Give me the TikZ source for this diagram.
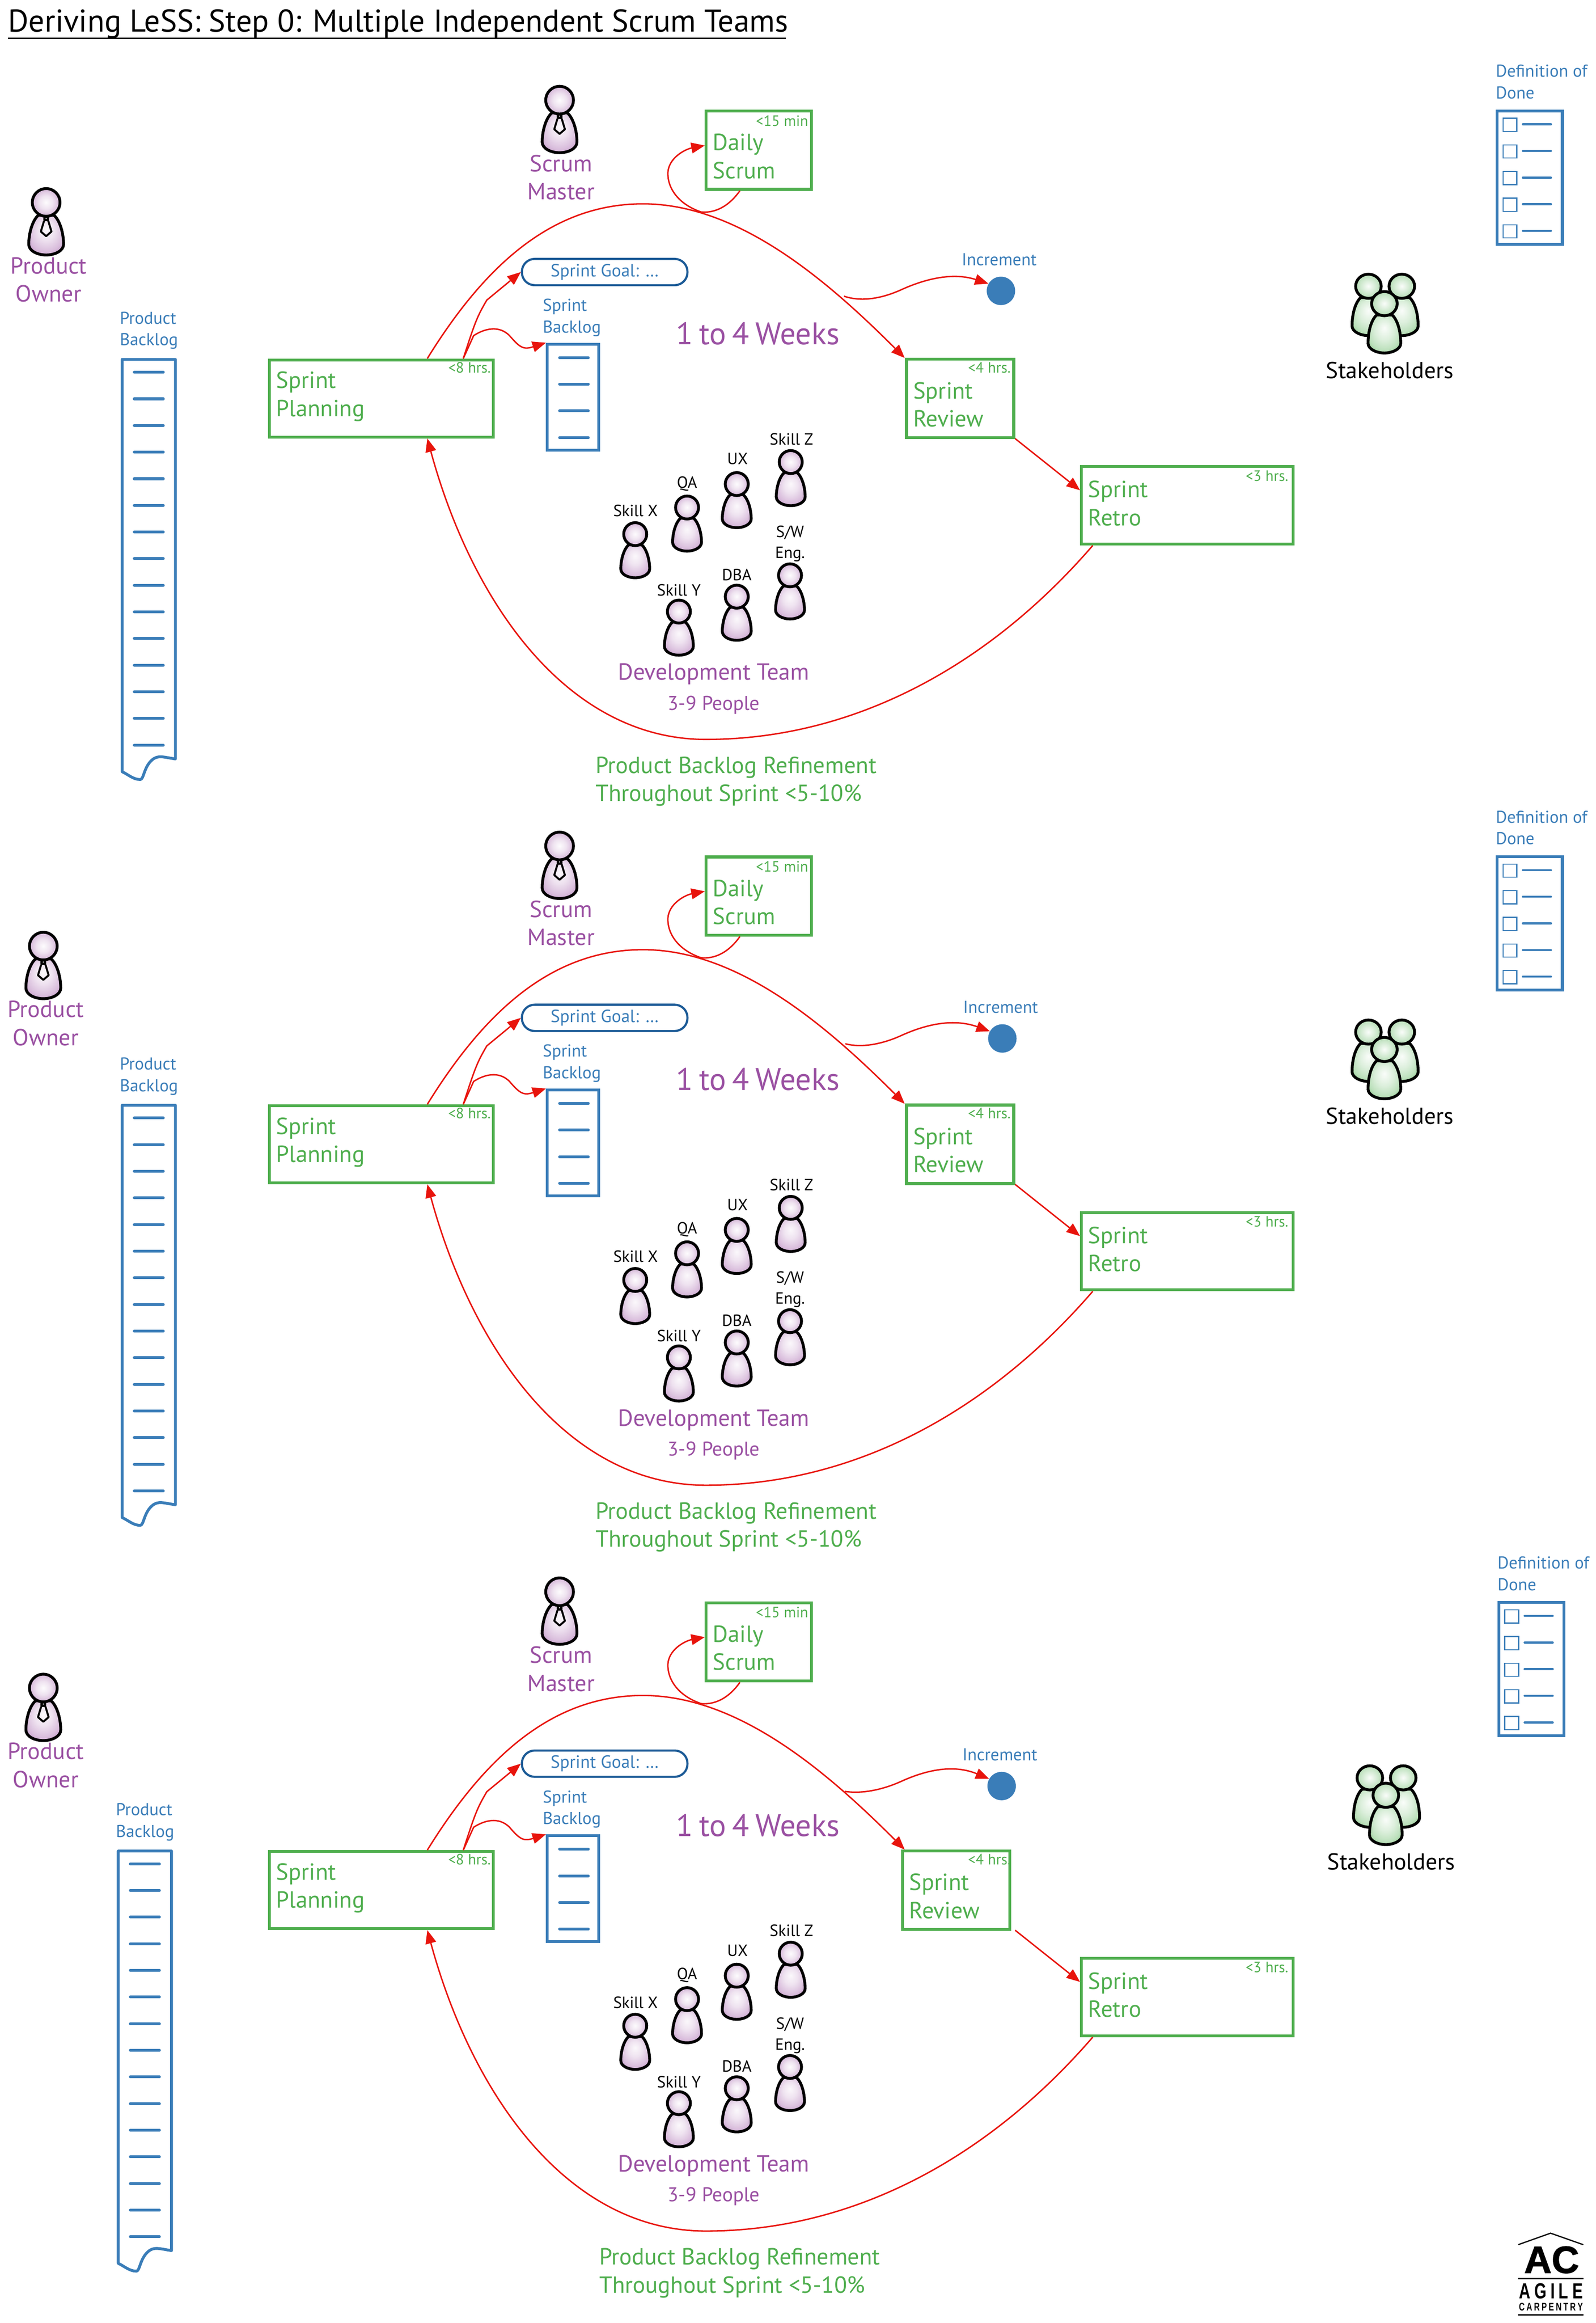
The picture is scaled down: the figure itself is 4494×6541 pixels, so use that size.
\documentclass[tikz,border=0pt]{standalone}
\usepackage{fontspec}
\setmainfont{PT Sans}
\newfontfamily\logofont[FakeStretch=0.72]{Liberation Sans}
\newfontfamily\logowide[FakeBold=1.5]{Liberation Sans}
\usetikzlibrary{positioning,arrows.meta}

\definecolor{scrumblue}{HTML}{3A7DB8}
\definecolor{goalblue}{HTML}{1B5A96}
\definecolor{scrumgreen}{HTML}{4FAE4E}
\definecolor{scrumpurple}{HTML}{9A50A2}
\definecolor{flowred}{HTML}{E8140C}

\pgfdeclareradialshading{purpleglow}{\pgfpoint{0bp}{0bp}}{color(0bp)=(scrumpurple!2!white); color(12bp)=(scrumpurple!16!white); color(25bp)=(scrumpurple!42!white)}
\pgfdeclareradialshading{bodyglow}{\pgfpoint{0bp}{8bp}}{color(0bp)=(scrumpurple!4!white); color(12bp)=(scrumpurple!16!white); color(25bp)=(scrumpurple!38!white); color(34bp)=(scrumpurple!62!white); color(50bp)=(scrumpurple!70!white)}
\pgfdeclareradialshading{greenglow}{\pgfpoint{0bp}{0bp}}{color(0bp)=(scrumgreen!3!white); color(25bp)=(scrumgreen!42!white)}
\pgfdeclareradialshading{greenbody}{\pgfpoint{0bp}{8bp}}{color(0bp)=(scrumgreen!3!white); color(14bp)=(scrumgreen!20!white); color(25bp)=(scrumgreen!38!white); color(34bp)=(scrumgreen!65!white); color(50bp)=(scrumgreen!70!white)}

\tikzset{
	sessionbox/.style 2 args={draw=scrumgreen, line width=0.08cm, text=scrumgreen, minimum width=#1cm, minimum height=#2cm, text width=#1cm-0.38cm, inner xsep=0.19cm, inner ysep=0pt, align=left, font=\bigfont},
	timelabel/.style={text=scrumgreen, inner sep=0pt, font=\fontsize{12}{14}\selectfont},
	rolelabel/.style={text=scrumpurple, inner sep=0pt, align=center, font=\bigfont},
	artefactlabel/.style={text=scrumblue, inner sep=0pt, align=left, font=\fontsize{13.8}{17.4}\selectfont},
	skilllabel/.style={inner sep=0pt, align=center, font=\fontsize{13}{16.8}\selectfont},
	flow/.style={draw=flowred, line width=0.04cm, -{Triangle[length=0.38cm,width=0.30cm]}},
	artefactline/.style={draw=scrumblue, line width=0.08cm, line cap=round, line join=round},
	pics/person/.style={code={
		\draw[line width=0.08cm, shading=bodyglow] (-22,36) .. controls (-38,50) and (-49,85) .. (-49,118) .. controls (-49,136) and (-25,148) .. (0,148) .. controls (25,148) and (49,136) .. (49,118) .. controls (49,85) and (38,50) .. (22,36) -- cycle;
		\draw[line width=0.08cm, shading=purpleglow] (0,0) circle (39);
	}},
	pics/tie/.style={code={
		\draw[line width=0.055cm, line join=round] (-6,52) -- (-15,82) -- (0,95) -- (15,82) -- (6,52);
		\fill[rounded corners=1pt] (-8,40) rectangle (8,53);
		\fill[white] (0,45) circle (1.8);
	}},
	pics/stakeholder/.style={code={
		\draw[line width=0.08cm, shading=greenbody] (-22,32) .. controls (-36,45) and (-46,75) .. (-46,112) .. controls (-46,128) and (-22,139) .. (0,139) .. controls (22,139) and (46,128) .. (46,112) .. controls (46,75) and (36,45) .. (22,32) -- cycle;
		\draw[line width=0.08cm, shading=greenglow] (0,0) ellipse (36 and 34);
	}},
}
\newcommand{\bigfont}{\fontsize{18.7}{22.5}\selectfont}

\begin{document}
\begin{tikzpicture}[x=0.01cm, y=-0.01cm]
	\useasboundingbox (0,0) rectangle (4494,6541);

	% title
	\node (title) [anchor=base west, inner sep=0pt, font=\fontsize{25.2}{28}\selectfont] at (22,90) {Deriving LeSS: Step 0: Multiple Independent Scrum Teams};
	\draw [line width=0.05cm] (22,108) -- (2214,108);

	% panel / shift / PO offset / backlog x / stakeholder x / DoD x / increment offset / refinement x / review x
	\foreach \p/\dy/\pox/\poy/\pbx/\stx/\dodx/\incx/\incy/\refx/\revx in {1/0/0/0/0/0/-3/0/0/0/0, 2/2100/-8/-6/0/0/-3/4/5/0/0, 3/4200/-8/-17/-11/4/2/2/10/10/-11} {
	\begin{scope}[shift={(0,\dy)}]
		% people
		\pic (po\p) at (130+\pox,570+\poy) {person};
		\pic at (130+\pox,570+\poy) {tie};
		\node (polabel\p) [rolelabel, anchor=base] at (137+\pox,850+\poy) {Product\\Owner};
		\pic (sm\p) at (1576,282) {person};
		\pic at (1576,282) {tie};
		\node (smlabel\p) [rolelabel, anchor=base] at (1580,562) {Scrum\\Master};

		% product backlog
		\node (pblabel\p) [artefactlabel, anchor=base west] at (337+\pbx,973) {Product\\Backlog};
		\draw [artefactline] (344+\pbx,1012) -- (494+\pbx,1012) -- (494+\pbx,2137) .. controls (460+\pbx,2132) and (445+\pbx,2125) .. (428+\pbx,2140) .. controls (405+\pbx,2160) and (405+\pbx,2195) .. (395+\pbx,2195) .. controls (375+\pbx,2195) and (360+\pbx,2180) .. (344+\pbx,2173) -- cycle;
		\foreach \i in {0,...,14}
			\draw [artefactline] (378+\pbx,1048+\i*75) -- (460+\pbx,1048+\i*75);

		% sessions
		\node (plan\p) [sessionbox={6.30}{2.17}] at (1074,1122) {Sprint\\Planning\rule[-0.25cm]{0pt}{0.25cm}};
		\node (plantime\p) [timelabel, anchor=base east] at (1383,1050) {<8 hrs.};
		\node (daily\p) [sessionbox={2.96}{2.20}] at (2137,423) {\rule{0pt}{0.81cm}Daily\\Scrum};
		\node (dailytime\p) [timelabel, anchor=base east] at (2277,355) {<15 min};
		\node (reviewtime\p) [timelabel, anchor=base east] at (2847,1050) {<4 hrs.};
		\node (review\p) [sessionbox={3.02}{2.21}] at (2704+\revx,1122) {\rule{0pt}{0.81cm}Sprint\\Review};
		\node (retro\p) [sessionbox={5.96}{2.18}] at (3344,1423) {Sprint\\Retro\rule[-0.12cm]{0pt}{0.12cm}};
		\node (retrotime\p) [timelabel, anchor=base east] at (3629,1354) {<3 hrs.};

		% sprint artefacts
		\node (goal\p) [draw=goalblue, line width=0.06cm, rounded corners=0.36cm, minimum width=4.66cm, minimum height=0.74cm, text=scrumblue, inner sep=0pt, font=\fontsize{14.2}{17}\selectfont] at (1703,766) {Sprint Goal: \ldots};
		\node (sb\p) [draw=scrumblue, line width=0.08cm, minimum width=1.45cm, minimum height=2.98cm] at (1614,1118) {};
		\node (sblabel\p) [artefactlabel, anchor=base west] at (1528,937) {Sprint\\Backlog};
		\foreach \i in {0,...,3}
			\draw [artefactline] (1576,1007+\i*75) -- (1657,1007+\i*75);
		\node (weeks\p) [text=scrumpurple, inner sep=0pt, anchor=base, font=\fontsize{25}{32}\selectfont] at (2134,970) {\spaceskip=0.2em 1 to 4 Weeks};

		% increment
		\node (inc\p) [circle, fill=scrumblue, minimum size=0.8cm, inner sep=0pt] at (2819+\incx,819+\incy) {};
		\node (inclabel\p) [artefactlabel, anchor=base, align=center] at (2814+\incx,748+\incy) {Increment};
		\coordinate (incstart\p) at (2377+\incx,834+\incy);

		% connectors
		\coordinate (revin\p) at (2548,1008);
		\coordinate (revout\p) at (2859,1235);
		\draw [flow] (plan\p.41) .. controls (1370,740) and (1560,574) .. (1811,574) .. controls (2080,574) and (2330,790) .. (revin\p);
		\draw [flow] (plan\p.26) .. controls (1340,900) and (1345,890) .. (1371,845) -- (goal\p.west);
		\draw [flow] (plan\p.26) -- (1334,945) .. controls (1365,925) and (1405,915) .. (1435,945) .. controls (1465,980) and (1475,985) .. (sb\p.north west);
		\draw [flow] (revout\p) -- (retro\p.172);
		\draw [flow] (retro\p.203) .. controls (2780,1880) and (2400,2082) .. (1988,2082) .. controls (1600,2082) and (1330,1700) .. (plan\p.319);
		\draw [flow] (daily\p.245) .. controls (2050,585) and (2010,600) .. (1975,597) .. controls (1910,575) and (1881,530) .. (1881,489) .. controls (1881,445) and (1930,420) .. (daily\p.175);
		\draw [flow] (incstart\p) .. controls (2430,852) and (2490,838) .. (2540,815) .. controls (2600,788) and (2680,765) .. (inc\p.150);

		% development team
		\foreach \n/\hx/\hy in {x/1789/1504, q/1935/1429, u/2075/1363, z/2227/1301, y/1912/1722, d/2075/1680, s/2225/1620}
			\pic (dev\n\p) [scale=0.83] at (\hx,\hy) {person};
		\node (skillx\p) [skilllabel, anchor=base] at (1790,1454) {Skill X};
		\node (skillq\p) [skilllabel, anchor=base] at (1935,1374) {QA};
		\node (skillu\p) [skilllabel, anchor=base] at (2077,1308) {UX};
		\node (skillz\p) [skilllabel, anchor=base] at (2229,1252) {Skill Z};
		\node (skilly\p) [skilllabel, anchor=base] at (1912,1678) {Skill Y};
		\node (skilld\p) [skilllabel, anchor=base] at (2075,1634) {DBA};
		\node (skills\p) [skilllabel, anchor=base] at (2225,1572) {S/W\\Eng.};
		\node (team\p) [rolelabel, anchor=base] at (2010,1915) {Development Team};
		\node (people\p) [rolelabel, anchor=base, font=\fontsize{16}{18}\selectfont] at (2010,1999) {3-9 People};
		\node (refine\p) [anchor=base west, inner sep=0pt, align=left, text=scrumgreen, font=\bigfont] at (1677+\refx,2256) {Product Backlog Refinement\\Throughout Sprint <5-10\%};

		% stakeholders
		\pic (sh1\p) at (3854+\stx,806) {stakeholder};
		\pic (sh2\p) at (3948+\stx,806) {stakeholder};
		\pic (sh3\p) at (3899+\stx,855) {stakeholder};
		\node (shlabel\p) [anchor=base, inner sep=0pt, font=\fontsize{18.5}{22}\selectfont] at (3914+\stx,1065) {Stakeholders};

		% definition of done
		\node (dodlabel\p) [artefactlabel, anchor=base west] at (4215+\dodx,278) {Definition of\\Done};
		\node (dod\p) [draw=scrumblue, line width=0.08cm, minimum width=1.84cm, minimum height=3.75cm] at (4311+\dodx,500) {};
		\foreach \i in {0,...,4} {
			\draw [scrumblue, line width=0.03cm] (4236+\dodx,333+\i*75) rectangle (4275+\dodx,370+\i*75);
			\draw [artefactline, line width=0.06cm] (4292+\dodx,350+\i*75) -- (4371+\dodx,350+\i*75);
		}
	\end{scope}
	}

	% logo
	\draw [line width=0.035cm, line cap=round] (4277,6320) -- (4367,6288) -- (4458,6320);
	\node (logoac) [anchor=base, inner sep=0pt, font=\fontsize{30.5}{30}\logowide\bfseries] at (4370,6400) {AC};
	\draw [line width=0.035cm] (4275,6416) -- (4460,6416);
	\node (logoagile) [anchor=base, inner sep=0pt, font=\fontsize{17.5}{18}\logofont\bfseries] at (4368,6472) {\makebox[1.8cm][s]{A\hfill G\hfill I\hfill L\hfill E}};
	\node (logocarp) [anchor=base, inner sep=0pt, font=\fontsize{8.8}{9}\logofont\bfseries] at (4368,6506) {\makebox[1.8cm][s]{C\hfill A\hfill R\hfill P\hfill E\hfill N\hfill T\hfill R\hfill Y}};
	\draw [line width=0.035cm] (4275,6518) -- (4460,6518);
\end{tikzpicture}
\end{document}
